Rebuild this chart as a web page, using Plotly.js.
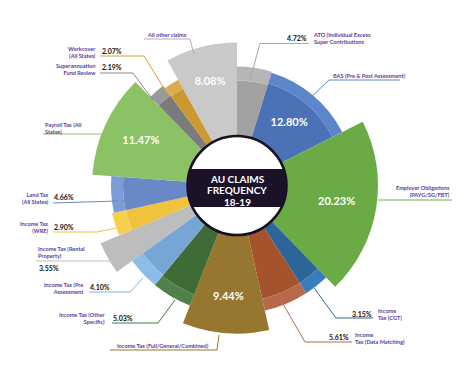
<!DOCTYPE html>
<html><head><meta charset="utf-8">
<script src="https://cdn.plot.ly/plotly-3.0.1.min.js"></script>
<style>html,body{margin:0;padding:0;background:#fff}</style>
</head><body><div id="chart" style="width:474px;height:380px"></div>
<script>
// ---- data (clockwise from 12 o'clock) ----
const categories = ["ATO (Individual Excess Super Contributions", "BAS (Pre & Post Assessment)", "Employer Obligations (PAYG/SG/FBT)", "Income Tax (CGT)", "Income Tax (Data Matching)", "Income Tax (Full/General/Combined)", "Income Tax (Other Specific)", "Income Tax (Pre Assessment", "Income Tax (Rental Property)", "Income Tax (WRE)", "Land Tax (All States)", "Payroll Tax (All States)", "Superannuation Fund Review", "Workcover (All States)", "All other claims"];
const shares = [4.72, 12.80, 20.23, 3.15, 5.61, 9.44, 5.03, 4.10, 3.55, 2.90, 4.66, 11.47, 2.19, 2.07, 8.08];
const shareLabels = ["4.72%", "12.80%", "20.23%", "3.15%", "5.61%", "9.44%", "5.03%", "4.10%", "3.55%", "2.90%", "4.66%", "11.47%", "2.19%", "2.07%", "8.08%"];
const innerLength = [105, 107, 141, 116, 116, 148, 117, 116, 148, 114, 114, 145, 112, 111, 143];
const outerLength = [119, 118, 141, 128, 128, 148, 129, 129, 148, 128, 126, 145, 124, 121, 143];
const titleLines = ["AU CLAIMS", "FREQUENCY", "18-19"];

// ---- styles ----
const W = 474, H = 380, CX = 237, CY = 185.5, R = 150, HOLE = 49.5;
const innerColors = ["#a2a2a2", "#4b71b6", "#6aab46", "#2c6598", "#a4532c", "#977630", "#3f6c36", "#77a6d6", "#bdbdbd", "#f1c23c", "#6889c6", "#8cc266", "#7b7b7b", "#cc9830", "#c9c9c9"];
const outerColors = ["#b6b6b6", "#5b86c9", "#6aab46", "#3b7cba", "#b8694a", "#977630", "#51804a", "#8cbde9", "#bdbdbd", "#f8cf4c", "#7a9dd8", "#8cc266", "#999999", "#dcab4b", "#c9c9c9"];
const purple = "#5a3c9c";
const FONT = "Lato, 'Open Sans', sans-serif";

const deg = shares.map(s => s * 3.6);
const mids = [];
let acc = 0;
deg.forEach(d => { mids.push(acc + d / 2); acc += d; });

const traces = [
  { type: "barpolar", theta: mids, width: deg, base: shares.map(() => HOLE),
    r: innerLength.map(v => v - HOLE), marker: { color: innerColors, line: { width: 0 } },
    hoverinfo: "skip", showlegend: false },
  { type: "barpolar", theta: mids, width: deg, base: innerLength,
    r: outerLength.map((v, i) => v - innerLength[i]), marker: { color: outerColors, line: { width: 0 } },
    hoverinfo: "skip", showlegend: false }
];

// white percentage labels inside the large wedges
const insideIdx = [14, 1, 2, 5, 11];
const insideR = [107, 81, 101, 112, 106];
traces.push({ type: "scatterpolar", mode: "text", theta: insideIdx.map(i => mids[i]), r: insideR,
  text: insideIdx.map(i => "<b>" + shareLabels[i] + "</b>"),
  textfont: { color: "#ffffff", size: 11, family: FONT, weight: 900 }, hoverinfo: "skip", showlegend: false, cliponaxis: false });

const px = x => x / W, py = y => 1 - y / H;
const shapes = [];
const annotations = [];

// center circle + band
shapes.push({ type: "circle", xref: "paper", yref: "paper", x0: px(CX - HOLE), x1: px(CX + HOLE), y0: py(CY + HOLE), y1: py(CY - HOLE),
  fillcolor: "#ffffff", line: { color: "#17101f", width: 2.5 }, layer: "above" });
(function () {
  const top = -16.5, bot = 21.5, pts = [];
  const a1 = Math.asin(top / HOLE), a2 = Math.asin(bot / HOLE);
  for (let k = 0; k <= 20; k++) { const a = a1 + (a2 - a1) * k / 20; pts.push([CX + HOLE * Math.cos(a), CY + HOLE * Math.sin(a)]); }
  for (let k = 0; k <= 20; k++) { const a = a2 + (a1 - a2) * k / 20; pts.push([CX - HOLE * Math.cos(a), CY + HOLE * Math.sin(a)]); }
  const path = pts.map((p, i) => (i ? "L" : "M") + px(p[0]).toFixed(5) + "," + py(p[1]).toFixed(5)).join(" ") + " Z";
  shapes.push({ type: "path", xref: "paper", yref: "paper", path: path, fillcolor: "#1b1227", line: { width: 0 }, layer: "above" });
})();
const titleY = [179, 190.5, 202];
titleLines.forEach((t, i) => {
  annotations.push({ xref: "paper", yref: "paper", x: px(CX), y: py(titleY[i]), showarrow: false, xanchor: "center", yanchor: "middle",
    text: "<b>" + t + "</b>", font: { color: "#ffffff", size: 10, family: FONT, weight: 900 }, align: "center" });
});

function leader(points, color) {
  const path = points.map((p, i) => (i ? "L" : "M") + px(p[0]).toFixed(5) + "," + py(p[1]).toFixed(5)).join(" ");
  shapes.push({ type: "path", xref: "paper", yref: "paper", path: path, line: { color: color, width: 1 }, layer: "above" });
}
function label(text, x, y, anchor) {
  annotations.push({ xref: "paper", yref: "paper", x: px(x), y: py(y), showarrow: false, xanchor: anchor, yanchor: "middle",
    align: anchor === "right" ? "right" : "left", text: "<b>" + text + "</b>", font: { color: purple, size: 5.6, family: FONT, weight: 900 } });
}
function pct(i, x, y, anchor) {
  annotations.push({ xref: "paper", yref: "paper", x: px(x), y: py(y), showarrow: false, xanchor: anchor, yanchor: "middle",
    text: "<b>" + shareLabels[i] + "</b>", font: { color: "#111111", size: 7, family: FONT, weight: 900 } });
}

// ATO
leader([[309, 43.5], [260, 43.5], [250, 80]], "#a8a8a8");
pct(0, 309, 37.5, "right"); label("ATO (Individual Excess<br>Super Contributions", 311, 38, "left");
// BAS
leader([[400, 80], [329, 80], [305, 103]], "#5b86c9");
label("BAS (Pre & Post Assessment)", 331, 75, "left");
// Employer
leader([[452, 200], [378, 200]], "#6aab46");
label("Employer Obligations<br>(PAYG/SG/FBT)", 452, 191, "right");
// CGT
leader([[314, 288], [336, 318], [373, 318]], "#2c6598");
pct(3, 374, 313.5, "right"); label("Income<br>Tax (CGT)", 376, 314, "left");
// Data matching
leader([[279, 297], [305, 342], [352, 342]], "#b8694a");
pct(4, 351, 337, "right"); label("Income<br>Tax (Data Matching)", 353, 337.5, "left");
// Full
leader([[110, 350], [217, 350], [219, 335]], "#977630");
label("Income Tax (Full/General/Combined)", 115, 345, "left");
// Other specific
leader([[112, 323], [158, 323], [175, 300]], "#4a7a40");
label("Income Tax (Other<br>Specific)", 108, 318, "right"); pct(6, 111, 318, "left");
// Pre assessment
leader([[89, 292], [130, 292], [143, 278]], "#7fb1e2");
label("Income Tax (Pre<br>Assessment", 86, 288, "right"); pct(7, 88, 287, "left");
// Rental
leader([[36, 261], [112, 261]], "#bdbdbd");
label("Income Tax (Rental<br>Property)", 36, 252, "left"); pct(8, 37, 267.5, "left");
// WRE
leader([[53, 232], [97, 232], [116, 228]], "#f1c23c");
label("Income Tax<br>(WRE)", 50, 227, "right"); pct(9, 52, 227, "left");
// Land tax
leader([[53, 203], [118, 201]], "#6889c6");
label("Land Tax<br>(All States)", 51, 198, "right"); pct(10, 52, 197, "left");
// Payroll
leader([[43, 134], [103, 134]], "#8cc266");
label("Payroll Tax (All<br>States)", 43, 128, "left");
// Super
leader([[100, 73], [133, 73], [153, 100]], "#8a8a8a");
label("Superannuation<br>Fund Review", 98, 68.5, "right"); pct(12, 100, 67, "left");
// Workcover
leader([[100, 56], [144, 56], [168, 95]], "#d4a03a");
label("Workcover<br>(All States)", 98, 51.5, "right"); pct(13, 100, 51, "left");
// All other
leader([[144, 39], [190, 39], [194, 54]], "#b0b0b0");
label("All other claims", 145, 34, "left");

const layout = {
  width: W, height: H, margin: { l: 0, r: 0, t: 0, b: 0 }, paper_bgcolor: "#ffffff", showlegend: false,
  polar: {
    domain: { x: [px(CX - R), px(CX + R)], y: [py(CY + R), py(CY - R)] },
    bgcolor: "rgba(0,0,0,0)", barmode: "overlay",
    radialaxis: { visible: false, range: [0, R] },
    angularaxis: { visible: false, rotation: 90, direction: "clockwise" }
  },
  shapes: shapes, annotations: annotations
};
Plotly.newPlot("chart", traces, layout, { displayModeBar: false, staticPlot: true });
</script></body></html>
